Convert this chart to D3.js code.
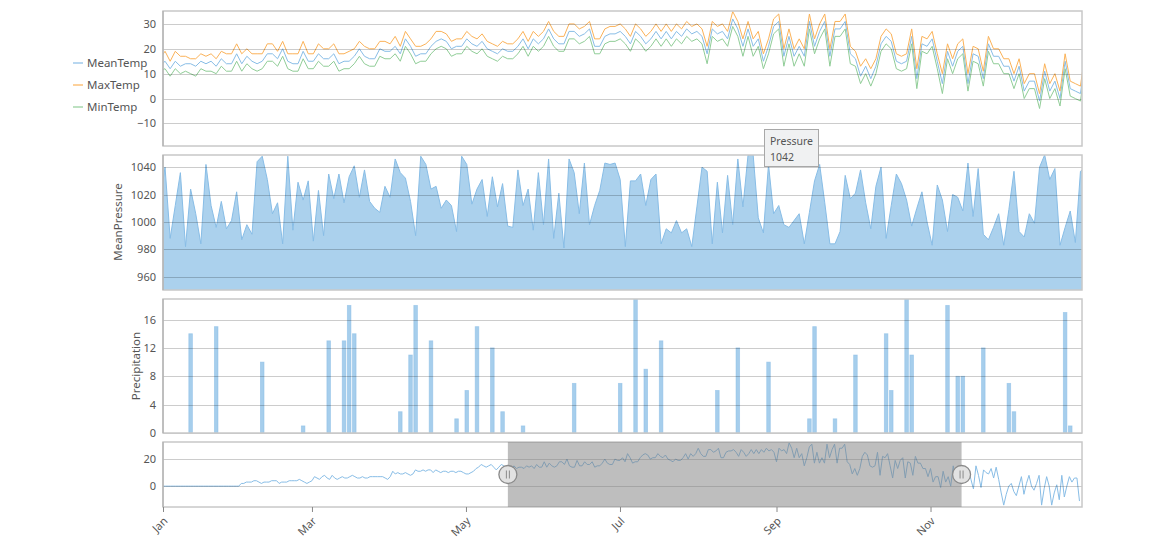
<!DOCTYPE html>
<html>
<head>
<meta charset="utf-8">
<script src="https://cdn.jsdelivr.net/npm/d3@7"></script>
<style>
  body { margin: 0; background: #fff; }
  svg { font-family: "Noto Sans", "Open Sans", sans-serif; }
  .tick text { fill: #555; font-size: 11px; }
</style>
</head>
<body>
<script>
// ---- data -------------------------------------------------------------
// day of year (0 = Jan 1) of the first value in the window series
var windowFirstDay = 136;

var maxTemp = [16,19,15,19,17,17,16,16,18,17,18,16,19,18,18,22,18,20,18,18,18,22,22,19,23,18,18,18,23,18,18,22,20,20,22,18,18,19,20,23,21,20,20,23,23,22,25,21,27,24,21,21,22,24,27,
  27,26,23,24,24,27,25,24,26,23,22,21,23,22,22,24,27,23,27,25,27,31,27,25,25,30,30,28,29,31,24,24,28,29,29,30,28,25,30,28,25,27,30,27,30,27,30,28,31,29,30,28,21,31,29,30,27,35,31,24,31,24,27,18,24,32,34,20,28,20,24,20,34,24,30,34,20,31,
  31,34,21,19,13,16,12,16,25,28,26,18,17,18,28,12,25,24,27,18,10,22,16,22,24,10,21,20,11,25,20,20,16,16,10,16,6,10,10,2,14,6,10,3,18,7,6,5,20];

var meanTemp = [13,15,12,15,13,14,14,13,15,14,15,13,16,14,14,18,14,17,15,14,15,18,18,16,20,15,14,14,19,15,15,18,16,16,18,14,15,15,17,20,17,16,16,20,19,19,21,18,24,21,17,18,18,21,23,
  24,23,20,21,21,24,22,21,23,20,19,18,20,19,19,21,24,20,24,22,24,28,24,22,22,27,27,25,26,28,21,21,25,26,26,27,25,22,27,25,22,24,27,24,27,24,27,25,28,26,27,25,18,28,26,27,24,32,28,21,28,21,24,15,21,29,31,17,25,17,21,17,31,21,27,31,17,28,
  28,31,18,16,9,13,8,13,22,25,23,15,14,15,25,8,22,21,24,15,6,19,13,19,21,6,18,17,8,22,17,17,13,13,7,13,3,7,7,-1,11,3,7,0,15,4,3,2,17];

var minTemp = [11,12,9,12,10,11,10,9,12,11,11,10,13,11,11,15,11,14,12,11,12,15,15,13,17,12,11,11,16,12,12,15,13,13,15,11,12,12,14,17,14,13,13,17,16,16,18,15,21,18,14,15,15,18,20,
  21,20,17,18,18,21,19,18,20,17,16,15,17,16,16,18,21,17,21,19,21,25,21,19,19,24,24,22,23,25,18,18,22,23,23,24,22,19,24,22,19,21,24,21,24,21,24,22,25,23,24,22,14,25,23,24,21,29,25,17,25,17,21,12,18,26,28,13,22,13,18,13,28,18,24,28,13,25,
  25,28,14,13,6,10,5,10,19,22,20,12,11,12,22,4,19,18,21,12,2,16,10,16,18,3,15,14,5,19,14,14,10,10,4,10,0,4,4,-4,8,0,4,-3,12,1,0,-1,14];

var meanPressure = [1015,
  1040,988,1012,1036,982,1024,1006,984,1042,1012,996,1015,995,1001,1022,987,998,991,1044,1048,1031,1006,1014,984,1048,994,1029,1016,1030,986,1023,990,1035,1017,1035,1014,1033,1041,1018,1038,1015,1010,1007,1026,1018,1046,1036,1032,1015,990,1048,1042,1024,1026,1010,1016,1012,993,1048,1042,1013,1024,
  1031,1004,1033,1011,1028,997,996,1038,1012,1024,994,1036,998,1046,988,1021,981,1046,1036,1006,1043,998,1012,1023,1043,1042,1043,1031,982,1030,1030,1035,1012,1031,1035,984,995,992,1001,992,995,982,1011,1040,1037,984,1029,992,1034,998,1046,1011,1049,1049,1003,992,1042,1006,1012,998,996,1001,1006,984,1007,1030,1042,1014,984,984,993,1034,1017,1021,1038,1014,995,1026,1040,
  988,1012,1035,1028,1016,997,1010,1022,1000,983,1027,1016,993,1020,1018,1008,1043,1004,1039,991,987,996,1006,983,1009,1037,993,989,1006,999,1040,1049,1031,1039,983,996,1008,985,1037,1040];

// rainy days (day of year) and precipitation
var rainDay = [142,147,156,164,169,172,173,174,183,185,186,189,194,196,198,201,203,207,217,226,229,231,234,245,249,255,263,264,268,272,278,279,282,283,290,292,293,297,302,303,313,314];
var rainMm  = [14,15,10,1,13,13,18,14,3,11,18,13,2,6,15,12,3,1,7,7,19,9,13,6,12,10,2,15,2,11,14,6,19,11,18,8,8,12,7,3,17,1];

// mean temperature for the rest of the year (navigator)
var navMeanBefore = [0,0,0,0,0,0,0,0,0,0,0,0,0,0,0,0,0,0,0,0,0,0,0,0,0,0,0,0,0,0,0,
  2,2,3,3,3,4,4,3,2,3,3,3,4,4,4,2,3,3,3,4,4,4,4,5,4,3,2,3,4,
  7,6,5,7,8,6,5,8,6,5,6,7,6,6,7,8,7,6,6,7,6,6,7,7,7,7,7,7,6,5,7,
  11,9,10,9,9,10,9,8,9,12,11,11,12,11,12,12,10,12,11,10,11,11,10,11,11,10,11,11,10,9,9,10,11,13,14,16,15,14,15,16,14,12,14,16,15];
var navMeanAfter = [8,5,13,5,-2,15,8,-1,12,10,9,13,6,14,5,-5,-14,-6,0,2,-4,-7,0,7,-6,2,8,0,-3,2,8,-14,-2,7,0,-14,-5,1,-10,8,-8,0,7,3,6,6,-11];

var seriesNames = ["MeanTemp", "MaxTemp", "MinTemp"];
var seriesColors = ["#88bde6", "#fbb258", "#90cd97"];

// ---- layout -----------------------------------------------------------
var width = 1170, height = 550;
var left = 163, right = 1082;
var t0 = Date.UTC(2014, 0, 1);
function dayDate(d) { return new Date(t0 + d * 864e5); }

var selFrom = 136.6, selTo = 316.3;

var x = d3.scaleUtc().domain([dayDate(selFrom), dayDate(selTo)]).range([left, right]);
var xNav = d3.scaleUtc().domain([dayDate(0), dayDate(364)]).range([left, right]);

var svg = d3.select("body").append("svg")
  .attr("width", width)
  .attr("height", height);

var defs = svg.append("defs");

function makePanel(id, top, bottom, domain, ticks) {
  var y = d3.scaleLinear().domain(domain).range([bottom, top]);
  defs.append("clipPath").attr("id", id)
    .append("rect").attr("x", left).attr("y", top)
    .attr("width", right - left).attr("height", bottom - top);
  var g = svg.append("g");
  var marks = g.append("g").attr("clip-path", "url(#" + id + ")");
  return { y: y, g: g, marks: marks, top: top, bottom: bottom, ticks: ticks };
}

function finishPanel(p) {
  // grid over marks
  p.g.append("g").selectAll("line").data(p.ticks).enter().append("line")
    .attr("x1", left).attr("x2", right)
    .attr("y1", function(d) { return Math.round(p.y(d)) + 0.5; })
    .attr("y2", function(d) { return Math.round(p.y(d)) + 0.5; })
    .attr("stroke", "rgba(0,0,0,0.2)");
  p.g.append("rect")
    .attr("x", left).attr("y", p.top)
    .attr("width", right - left).attr("height", p.bottom - p.top)
    .attr("fill", "none").attr("stroke", "#c8c8c8").attr("stroke-width", 1.5);
  p.g.append("line")
    .attr("x1", left).attr("x2", left).attr("y1", p.top).attr("y2", p.bottom)
    .attr("stroke", "#a8a8a8");
  var ax = p.g.append("g")
    .attr("transform", "translate(" + left + ",0)")
    .call(d3.axisLeft(p.y).tickValues(p.ticks).tickFormat(d3.format("d"))
      .tickSize(0).tickPadding(7));
  ax.select(".domain").remove();
  ax.selectAll("text").style("font-family", "Noto Sans, sans-serif");
}

// ---- temperature panel --------------------------------------------------
var temp = makePanel("clipTemp", 11, 146, [-19.07, 35.2], [-10, 0, 10, 20, 30]);
var tempSeries = [meanTemp, maxTemp, minTemp];
tempSeries.forEach(function(s, i) {
  var line = d3.line()
    .x(function(d, j) { return x(dayDate(windowFirstDay + j)); })
    .y(function(d) { return temp.y(d); });
  temp.marks.append("path")
    .datum(s)
    .attr("d", line)
    .attr("fill", "none")
    .attr("stroke", seriesColors[i])
    .attr("stroke-width", 1);
});
finishPanel(temp);

var legend = svg.append("g");
var legendY = [63, 85, 107];
seriesNames.forEach(function(name, i) {
  legend.append("line")
    .attr("x1", 73).attr("x2", 83)
    .attr("y1", legendY[i]).attr("y2", legendY[i])
    .attr("stroke", seriesColors[i]).attr("stroke-width", 1.2);
  legend.append("text")
    .attr("x", 87).attr("y", legendY[i]).attr("dy", "0.35em")
    .attr("fill", "#555").style("font-size", "11.5px")
    .text(name);
});

// ---- pressure panel -----------------------------------------------------
var pres = makePanel("clipPres", 155, 290, [950.3, 1048.9], [960, 980, 1000, 1020, 1040]);
var area = d3.area()
  .x(function(d, j) { return x(dayDate(windowFirstDay + j)); })
  .y0(pres.bottom)
  .y1(function(d) { return pres.y(d); });
pres.marks.append("path")
  .datum(meanPressure)
  .attr("d", area)
  .attr("fill", "rgba(136,189,230,0.7)");
pres.marks.append("path")
  .datum(meanPressure)
  .attr("d", area.lineY1())
  .attr("fill", "none")
  .attr("stroke", "#88bde6");
finishPanel(pres);
svg.append("text")
  .attr("transform", "translate(118,222) rotate(-90)")
  .attr("text-anchor", "middle").attr("dy", "0.35em")
  .attr("fill", "#555").style("font-size", "11.5px")
  .text("MeanPressure");

// ---- precipitation panel -------------------------------------------------
var rain = makePanel("clipRain", 299, 433, [0, 18.9], [0, 4, 8, 12, 16]);
rain.marks.selectAll("rect").data(rainDay).enter().append("rect")
  .attr("x", function(d) { return x(dayDate(d)) - 1.8; })
  .attr("width", 3.6)
  .attr("y", function(d, i) { return rain.y(rainMm[i]); })
  .attr("height", function(d, i) { return rain.y(0) - rain.y(rainMm[i]); })
  .attr("fill", "rgba(136,189,230,0.75)")
  .attr("stroke", "rgba(136,189,230,0.6)")
  .attr("stroke-width", 0.8);
finishPanel(rain);
svg.append("text")
  .attr("transform", "translate(136,366) rotate(-90)")
  .attr("text-anchor", "middle").attr("dy", "0.35em")
  .attr("fill", "#555").style("font-size", "11.5px")
  .text("Precipitation");

// ---- tooltip --------------------------------------------------------------
var tip = svg.append("g").attr("transform", "translate(764,129)");
tip.append("rect")
  .attr("x", 0.5).attr("y", 0.5).attr("width", 54).attr("height", 37)
  .attr("fill", "#f0f1f2").attr("stroke", "#a8a8a8");
tip.append("text").attr("x", 6).attr("y", 16)
  .attr("fill", "#555").style("font-size", "10.5px").text("Pressure");
tip.append("text").attr("x", 6).attr("y", 32)
  .attr("fill", "#555").style("font-size", "10.5px").text("1042");

// ---- range navigator --------------------------------------------------------
var navMean = navMeanBefore.concat(meanTemp.slice(0, meanTemp.length - 1), navMeanAfter);
var nav = makePanel("clipNav", 442, 507, [-15.4, 32.6], [0, 20]);
nav.marks.append("path")
  .datum(navMean)
  .attr("d", d3.line()
    .x(function(d, j) { return xNav(dayDate(j)); })
    .y(function(d) { return nav.y(d); }))
  .attr("fill", "none")
  .attr("stroke", "#88bde6")
  .attr("stroke-width", 1);
finishPanel(nav);

var x0 = xNav(dayDate(selFrom)), x1 = xNav(dayDate(selTo));
svg.append("rect")
  .attr("x", x0).attr("y", nav.top)
  .attr("width", x1 - x0).attr("height", nav.bottom - nav.top)
  .attr("fill", "rgba(125,125,125,0.5)");

[x0, x1].forEach(function(hx) {
  var h = svg.append("g").attr("transform", "translate(" + hx + "," + ((nav.top + nav.bottom) / 2) + ")");
  h.append("circle").attr("r", 9)
    .attr("fill", "#e2e2e2").attr("stroke", "#8a8a8a").attr("stroke-width", 1.3);
  h.append("line").attr("x1", -1.5).attr("x2", -1.5).attr("y1", -4).attr("y2", 4).attr("stroke", "#8a8a8a");
  h.append("line").attr("x1", 1.5).attr("x2", 1.5).attr("y1", -4).attr("y2", 4).attr("stroke", "#8a8a8a");
});

var xAxis = svg.append("g")
  .attr("transform", "translate(0," + nav.bottom + ")")
  .call(d3.axisBottom(xNav)
    .ticks(d3.utcMonth.every(2))
    .tickFormat(d3.utcFormat("%b"))
    .tickSize(5));
xAxis.select(".domain").remove();
xAxis.selectAll(".tick line").attr("stroke", "#888");
xAxis.selectAll("text")
  .attr("x", 0).attr("y", 0).attr("dy", "0.35em")
  .attr("transform", "translate(2,12) rotate(-45)")
  .style("text-anchor", "end")
  .style("font-family", "Noto Sans, sans-serif");
</script>
</body>
</html>
